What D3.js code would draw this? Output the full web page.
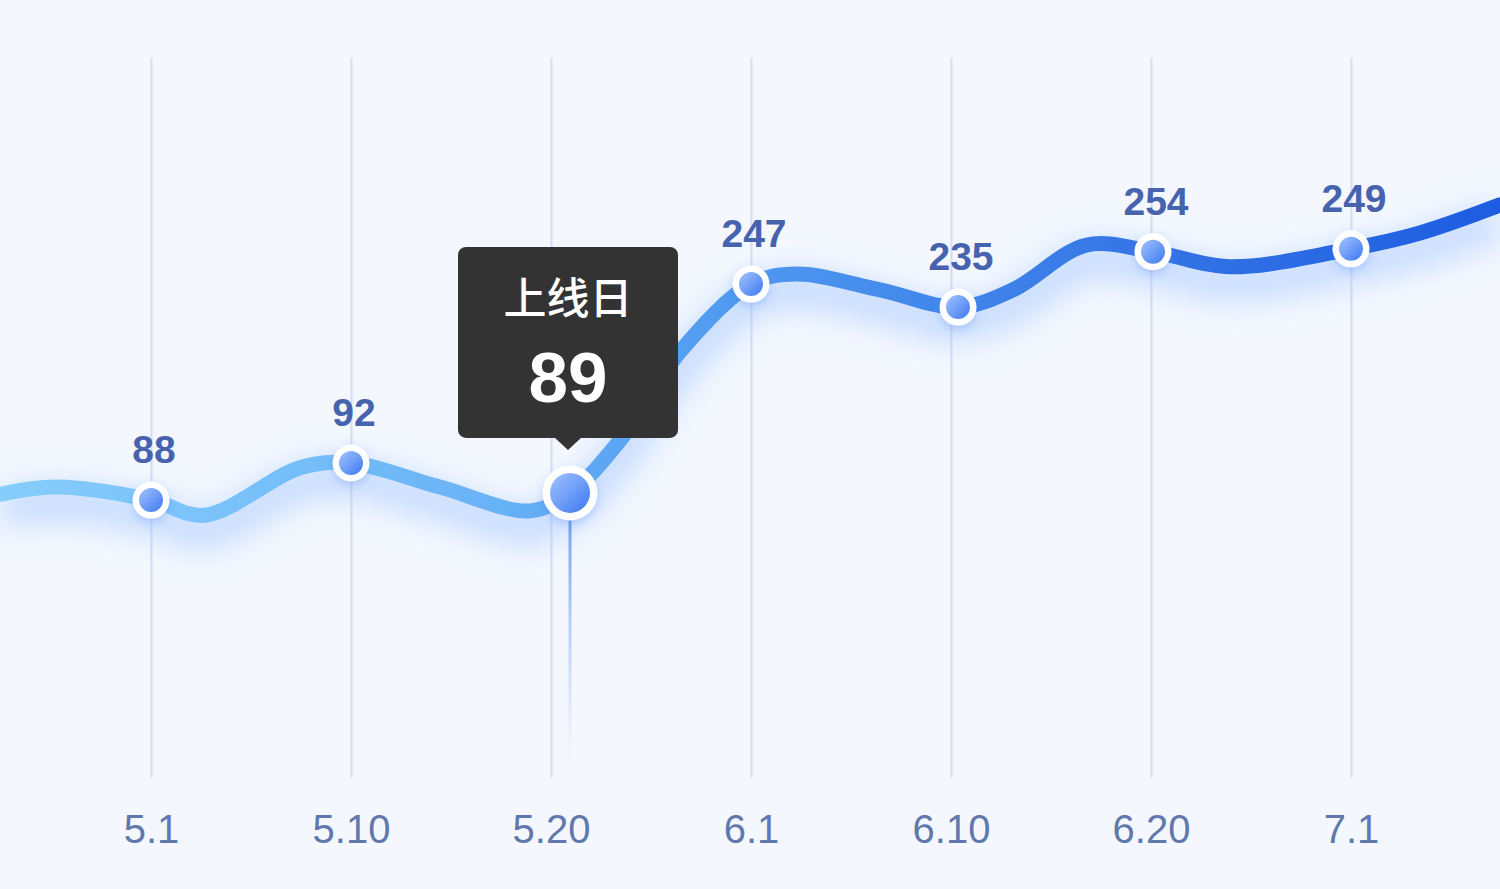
<!DOCTYPE html>
<html>
<head>
<meta charset="utf-8">
<script src="https://cdn.jsdelivr.net/npm/d3@7"></script>
<style>
  html, body { margin: 0; padding: 0; background: #f4f8fe; }
  svg { display: block; }
  .tick text { font-family: "Liberation Sans", Arial, sans-serif; }
</style>
</head>
<body>
<svg id="chart" width="1500" height="889"></svg>
<script>
  // x categories (evenly spaced ticks)
  const tickLabels = ['5.1', '5.10', '5.20', '6.1', '6.10', '6.20', '7.1'];

  // smooth curve, position in tick units, level on a 0-100 scale
  const curvePos   = [-0.755, -0.47, 0, 0.27, 0.745, 1, 1.445, 1.895, 2.095, 2.345, 2.645,
                      3, 3.23, 3.645, 4.035, 4.31, 4.675, 5.01, 5.395, 6, 6.345, 6.745];
  const curveLevel = [39.4, 40.4, 38.6, 36.5, 43.1, 43.75, 40.4, 37.1, 39.6, 46.9, 59.2,
                      68.6, 70.0, 67.8, 65.4, 67.8, 74.0, 73.1, 71.0, 73.5, 75.7, 79.6];

  // labelled dots
  const dotPos    = [0, 1, 2.095, 3, 4.035, 5.01, 6];
  const dotLevel  = [38.6, 43.75, 39.6, 68.6, 65.4, 73.1, 73.5];
  const dotValues = [88, 92, 89, 247, 235, 254, 249];

  const activeIndex = 2;
  const tooltipTitle = '上线日';

  const svg = d3.select('#chart');
  const width = +svg.attr('width');
  const height = +svg.attr('height');

  const xScale = d3.scaleLinear().domain([0, 6]).range([151, 1351]);
  const yScale = d3.scaleLinear().domain([0, 100]).range([778, 58]);

  const defs = svg.append('defs');

  const lineGrad = defs.append('linearGradient')
    .attr('id', 'lineGrad')
    .attr('gradientUnits', 'userSpaceOnUse')
    .attr('x1', 0).attr('y1', 0).attr('x2', width).attr('y2', 0);
  [[0, '#86cdfb'], [0.3, '#6cb6f7'], [0.5, '#4e98f0'], [0.75, '#3676e6'], [1, '#1d5ce0']]
    .forEach(([o, c]) => lineGrad.append('stop').attr('offset', o).attr('stop-color', c));

  const dotGrad = defs.append('linearGradient')
    .attr('id', 'dotGrad')
    .attr('x1', 0).attr('y1', 0).attr('x2', 1).attr('y2', 1);
  dotGrad.append('stop').attr('offset', 0).attr('stop-color', '#a3c3ff');
  dotGrad.append('stop').attr('offset', 1).attr('stop-color', '#3d78f0');

  const stemGrad = defs.append('linearGradient')
    .attr('id', 'stemGrad')
    .attr('x1', 0).attr('y1', 0).attr('x2', 0).attr('y2', 1);
  stemGrad.append('stop').attr('offset', 0).attr('stop-color', '#6f9cee').attr('stop-opacity', 1);
  stemGrad.append('stop').attr('offset', 1).attr('stop-color', '#a9c4f5').attr('stop-opacity', 0);

  defs.append('filter')
    .attr('id', 'glow')
    .attr('x', '-20%').attr('y', '-50%').attr('width', '140%').attr('height', '200%')
    .append('feGaussianBlur').attr('stdDeviation', 16);

  defs.append('filter')
    .attr('id', 'dotShadow')
    .attr('x', '-100%').attr('y', '-100%').attr('width', '300%').attr('height', '300%')
    .append('feDropShadow')
      .attr('dx', 0).attr('dy', 4).attr('stdDeviation', 5)
      .attr('flood-color', '#4f86f0').attr('flood-opacity', 0.3);

  svg.append('rect')
    .attr('width', width).attr('height', height)
    .attr('fill', '#f4f8fe');

  // grid + x labels
  const xAxis = d3.axisBottom(xScale)
    .tickValues(d3.range(tickLabels.length))
    .tickFormat(i => tickLabels[i])
    .tickSize(-(yScale(0) - yScale(100)))
    .tickPadding(37);

  const xAxisG = svg.append('g')
    .attr('transform', `translate(0,${yScale(0)})`)
    .call(xAxis);
  xAxisG.select('.domain').remove();
  xAxisG.selectAll('.tick line')
    .attr('stroke', '#d3dcf4')
    .attr('stroke-width', 2);
  xAxisG.selectAll('.tick text')
    .attr('fill', '#6078ab')
    .attr('font-size', 40);

  const points = curvePos.map((p, i) => ({ pos: p, level: curveLevel[i] }));
  const dots = dotPos.map((p, i) => ({ pos: p, level: dotLevel[i], value: dotValues[i], i }));

  const line = d3.line()
    .x(d => xScale(d.pos))
    .y(d => yScale(d.level))
    .curve(d3.curveCatmullRom.alpha(0.5));

  // soft glow under the line
  svg.append('path')
    .datum(points)
    .attr('d', line)
    .attr('transform', 'translate(0,16)')
    .attr('fill', 'none')
    .attr('stroke', '#9fc2ff')
    .attr('stroke-opacity', 0.55)
    .attr('stroke-width', 36)
    .attr('filter', 'url(#glow)');

  // stem under active dot
  const active = dots[activeIndex];
  svg.append('rect')
    .attr('x', xScale(active.pos) - 1.5)
    .attr('y', yScale(active.level) + 20)
    .attr('width', 3)
    .attr('height', 768 - yScale(active.level) - 20)
    .attr('fill', 'url(#stemGrad)');

  svg.append('path')
    .datum(points)
    .attr('d', line)
    .attr('fill', 'none')
    .attr('stroke', 'url(#lineGrad)')
    .attr('stroke-width', 15)
    .attr('stroke-linecap', 'round');

  const dotG = svg.selectAll('.dot').data(dots)
    .enter().append('g')
      .attr('class', 'dot')
      .attr('transform', d => `translate(${xScale(d.pos)},${yScale(d.level)})`);

  dotG.append('circle')
    .attr('r', d => d.i === activeIndex ? 27.5 : 18.5)
    .attr('fill', '#ffffff')
    .attr('filter', 'url(#dotShadow)');

  dotG.append('circle')
    .attr('r', d => d.i === activeIndex ? 20 : 12)
    .attr('fill', 'url(#dotGrad)');

  dotG.filter(d => d.i !== activeIndex)
    .append('text')
      .attr('x', 3)
      .attr('y', -37)
      .attr('text-anchor', 'middle')
      .attr('font-family', '"Liberation Sans", Arial, sans-serif')
      .attr('font-weight', 'bold')
      .attr('font-size', 39)
      .attr('fill', '#4863ae')
      .text(d => d.value);

  // tooltip
  const tx = xScale(active.pos) - 2;
  const ty = yScale(active.level);
  const tip = svg.append('g')
    .attr('transform', `translate(${tx},${ty})`);

  tip.append('rect')
    .attr('x', -110).attr('y', -246)
    .attr('width', 220).attr('height', 191)
    .attr('rx', 8)
    .attr('fill', '#333333');

  tip.append('path')
    .attr('d', 'M-14,-56 L14,-56 L0,-43 Z')
    .attr('fill', '#333333');

  tip.append('text')
    .attr('y', -179)
    .attr('text-anchor', 'middle')
    .attr('font-family', '"Noto Sans CJK SC", sans-serif')
    .attr('font-weight', 500)
    .attr('font-size', 43)
    .attr('fill', '#ffffff')
    .text(tooltipTitle);

  tip.append('text')
    .attr('y', -91)
    .attr('text-anchor', 'middle')
    .attr('font-family', '"Liberation Sans", Arial, sans-serif')
    .attr('font-weight', 'bold')
    .attr('font-size', 71)
    .attr('fill', '#ffffff')
    .text(active.value);
</script>
</body>
</html>
